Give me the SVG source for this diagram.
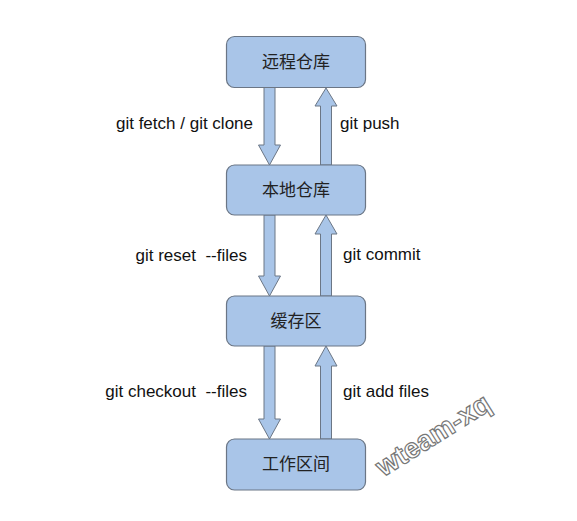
<svg xmlns="http://www.w3.org/2000/svg" width="577" height="521" viewBox="0 0 577 521">
<style>
.box{fill:#a9c5e8;stroke:#6b7685;stroke-width:1.2}
.arr{fill:#a9c5e8;stroke:#6b7685;stroke-width:1}
.lbl{font-family:"Liberation Sans",Arial,sans-serif;font-size:17px;fill:#111}
.node{font-family:"Noto Sans CJK SC","Liberation Sans",sans-serif;font-size:17px;fill:#222;text-anchor:middle}
.wm{font-family:"Liberation Sans",Arial,sans-serif;font-size:28px;font-weight:bold;fill:#fff;stroke:#777;stroke-width:1.2}
</style>
<rect width="577" height="521" fill="#fff"/>
<g id="connectors">
<path class="arr" d="M264,87 V145 H258.5 L269.5,165 L280.5,145 H275 V87 Z"/>
<path class="arr" d="M320.5,165 V106 H315 L326,88 L337,106 H331.5 V165 Z"/>
<path class="arr" d="M264,215 V276 H258.5 L269.5,296 L280.5,276 H275 V215 Z"/>
<path class="arr" d="M320.5,296 V234 H315 L326,215 L337,234 H331.5 V296 Z"/>
<path class="arr" d="M264,346 V419 H258.5 L269.5,439 L280.5,419 H275 V346 Z"/>
<path class="arr" d="M320.5,439 V366 H315 L326,346 L337,366 H331.5 V439 Z"/>
<text class="lbl" x="253" y="129" text-anchor="end">git fetch / git clone</text>
<text class="lbl" x="340" y="129">git push</text>
<text class="lbl" x="247" y="261" text-anchor="end" xml:space="preserve">git reset  --files</text>
<text class="lbl" x="343" y="260">git commit</text>
<text class="lbl" x="247" y="397" text-anchor="end" xml:space="preserve">git checkout  --files</text>
<text class="lbl" x="343" y="397">git add files</text>
</g>
<g id="remote"><rect class="box" x="226.5" y="36.5" width="139" height="51" rx="8"/><text class="node" x="296" y="68">远程仓库</text></g>
<g id="local"><rect class="box" x="226.5" y="165" width="139" height="50" rx="8"/><text class="node" x="296" y="196">本地仓库</text></g>
<g id="stage"><rect class="box" x="226.5" y="296" width="139" height="50" rx="8"/><text class="node" x="296" y="327">缓存区</text></g>
<g id="work"><rect class="box" x="226.5" y="439" width="139" height="51" rx="8"/><text class="node" x="296" y="470">工作区间</text></g>
<text class="wm" x="0" y="0" text-anchor="middle" transform="translate(438,443) rotate(-32)">wteam-xq</text>
</svg>
